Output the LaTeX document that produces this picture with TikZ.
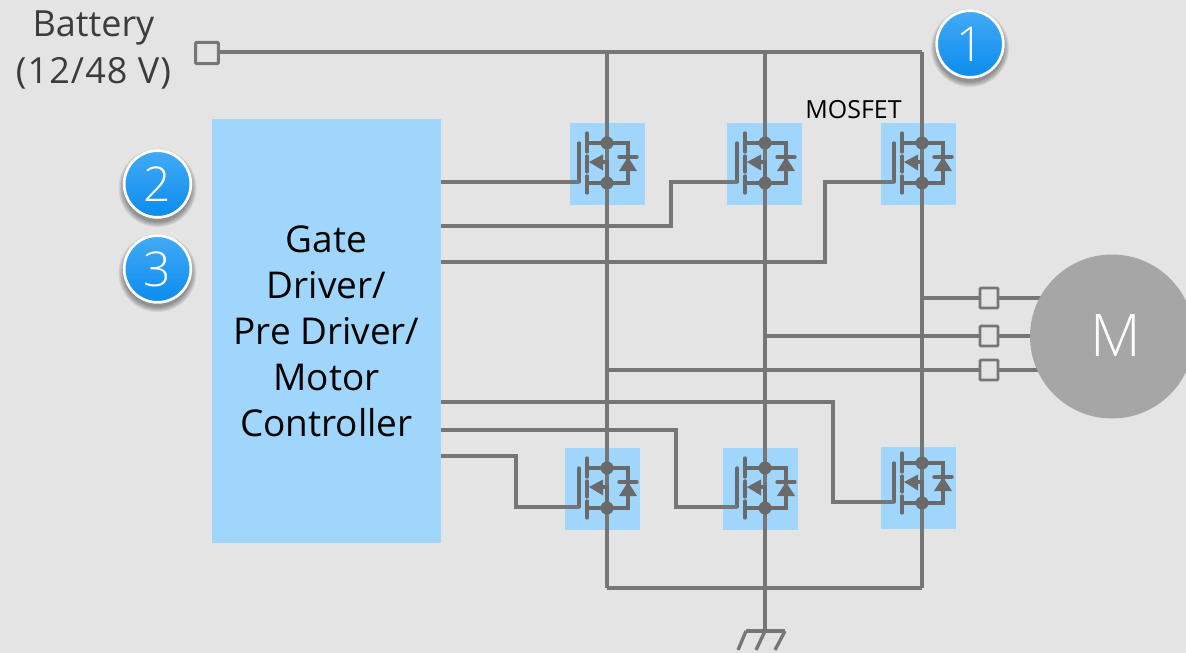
\documentclass[tikz,border=0pt]{standalone}
\usepackage{fontspec}
\setmainfont{Open Sans}
\newfontfamily\mlight{Open Sans}[UprightFont=* Light]
\usetikzlibrary{positioning}
\definecolor{mback}{HTML}{E4E4E4}
\definecolor{mtile}{HTML}{A0D6FB}
\definecolor{mwire}{HTML}{767676}
\definecolor{mdev}{HTML}{6A6A6A}
\definecolor{mmotor}{HTML}{A6A6A6}
\definecolor{mtext}{HTML}{3C3C3C}
\definecolor{mbadgetop}{HTML}{43AAF6}
\definecolor{mbadgebot}{HTML}{0A8CEE}
\tikzset{
  wire/.style={draw=mwire, line width=2.5pt},
  devline/.style={draw=mdev, line width=2.5pt, line cap=round},
  tile/.style={fill=mtile, minimum width=56.25pt, minimum height=61.5pt, inner sep=0pt},
  terminal/.style={draw=mwire, line width=2.2pt, fill=mback, rounded corners=0.8pt, minimum width=13.5pt, minimum height=15pt, inner sep=0pt},
  badge/.style={circle, draw=white, line width=2pt, top color=mbadgetop, bottom color=mbadgebot, minimum size=50pt, inner sep=0pt, text=white, font=\fontsize{36}{36}\selectfont\mlight},
  mosfet/.pic={
    \draw [devline] (-28, -20) -- (-28, 19);
    \draw [devline] (-20, -30) -- (-20, -11);
    \draw [devline] (-20, -7) -- (-20, 9);
    \draw [devline] (-20, 13) -- (-20, 30);
    \draw [devline] (-20, -20) -- (21, -20) -- (21, 20) -- (-20, 20);
    \draw [devline] (-4, -1) -- (0, -1) -- (0, 20);
    \fill [mdev] (-18, -1) -- (-4, -8.5) -- (-4, 7.5) -- cycle;
    \fill [mdev] (12, 8) -- (21, -6) -- (30, 8) -- cycle;
    \draw [devline] (12, -6) -- (30, -6);
    \fill [mdev] (0, -20) circle (6.5);
    \fill [mdev] (0, 20) circle (6.5);
    \coordinate (-gate) at (-28, 19);
  }
}

\begin{document}
\begin{tikzpicture}[x=0.75pt, y=-0.75pt]
  \useasboundingbox (0, 0) rectangle (1186, 653);
  \fill [mback] (0, 0) rectangle (1186, 653);

  \node [tile] (tile1) at (607.5, 164) {};
  \node [tile] (tile2) at (764.5, 164) {};
  \node [tile] (tile3) at (918.5, 164) {};
  \node [tile] (tile4) at (602.5, 489) {};
  \node [tile] (tile5) at (760.5, 489) {};
  \node [tile] (tile6) at (918.5, 488) {};

  \node [fill=mtile, minimum width=171.75pt, minimum height=318pt, inner sep=0pt, align=center, font=\fontsize{27.7}{34.5}\selectfont] (driver) at (326.5, 331) {Gate\\Driver/\\Pre Driver/\\Motor\\Controller};

  \node [terminal, minimum width=17pt, minimum height=16pt] (batt) at (207, 53) {};
  \coordinate (rail) at (922, 52);
  \coordinate (gndn) at (765, 631);
  \coordinate (motorc) at (1112, 336.5);

  \draw [wire] (batt.east |- rail) -- (rail);
  \draw [wire] (607, 52) -- (607, 588);
  \draw [wire] (765, 52) -- (gndn);
  \draw [wire] (rail) -- (922, 588);
  \draw [wire] (607, 588) -- (922, 588);

  \pic (q1) at (607, 163) {mosfet};
  \pic (q2) at (765, 163) {mosfet};
  \pic (q3) at (922, 163) {mosfet};
  \pic (q4) at (607, 488) {mosfet};
  \pic (q5) at (765, 488) {mosfet};
  \pic (q6) at (922, 483) {mosfet};

  \draw [wire] (driver.east |- q1-gate) -- (q1-gate);
  \draw [wire] (driver.east |- 0, 226) -- (671, 226) -- (671, 182) -- (q2-gate);
  \draw [wire] (driver.east |- 0, 262) -- (825, 262) -- (825, 182) -- (q3-gate);
  \draw [wire] (driver.east |- 0, 402) -- (833, 402) -- (833, 502) -- (q6-gate);
  \draw [wire] (driver.east |- 0, 430) -- (676, 430) -- (676, 507) -- (q5-gate);
  \draw [wire] (driver.east |- 0, 456) -- (516, 456) -- (516, 507) -- (q4-gate);

  \node [terminal] (tu) at (989, 298) {};
  \node [terminal] (tv) at (989, 336) {};
  \node [terminal] (tw) at (989, 370) {};

  \draw [wire] (922, 298) -- (tu);
  \draw [wire] (765, 336) -- (tv);
  \draw [wire] (607, 370) -- (tw);
  \draw [wire] (tu) -- (tu -| motorc);
  \draw [wire] (tv) -- (tv -| motorc);
  \draw [wire] (tw) -- (tw -| motorc);
  \node [circle, fill=mmotor, minimum size=123pt, inner sep=0pt] (motor) at (motorc) {};
  \node [text=white, font=\fontsize{44}{44}\selectfont\mlight] (mlabel) at (1116, 336) {M};

  \draw [wire] (gndn) ++(-19, 0) coordinate (gl) -- ++(39, 0) coordinate (gr);
  \draw [wire] (gl) -- ++(-8, 19);
  \draw [wire] (gndn) -- ++(-9, 19);
  \draw [wire] (gr) -- ++(-10, 19);

  \node [text=mtext, align=center, font=\fontsize{27}{34.7}\selectfont] (battlabel) at (93.5, 50) {Battery\\\addfontfeature{LetterSpace=3}(12/48 V)};
  \node [text=black, font=\fontsize{18.7}{20}\selectfont] (moslabel) at (853.5, 110) {MOSFET};

  \foreach \bx/\by in {970/44, 157.5/184, 157.5/269} {
    \foreach \br in {39, 38, 37, 36, 35, 34} {
      \fill [black, opacity=0.07] (\bx, \by + 4) circle (\br);
    }
  }
  \node [badge] (b1) at (970, 44) {1};
  \node [badge] (b2) at (157.5, 184) {2};
  \node [badge] (b3) at (157.5, 269) {3};
\end{tikzpicture}
\end{document}
